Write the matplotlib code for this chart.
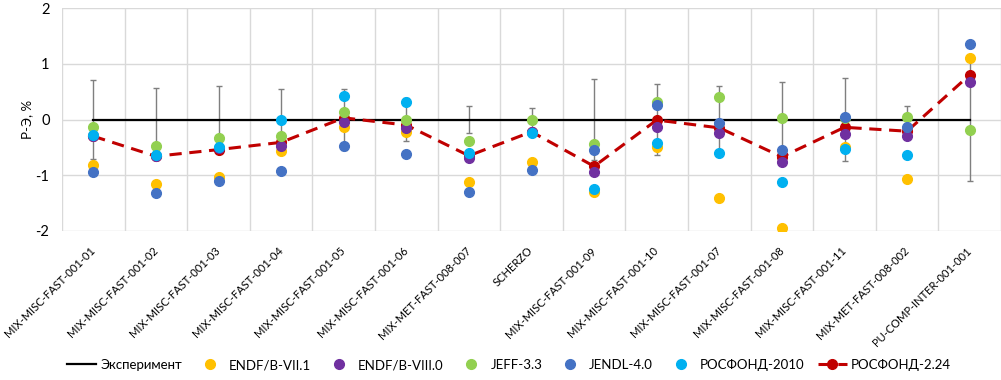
import numpy as np
import matplotlib.pyplot as plt
from matplotlib.transforms import ScaledTranslation

plt.rcParams['font.family'] = ['Lato', 'DejaVu Sans']
plt.rcParams['axes.unicode_minus'] = False

cases = ["MIX-MISC-FAST-001-01", "MIX-MISC-FAST-001-02", "MIX-MISC-FAST-001-03",
         "MIX-MISC-FAST-001-04", "MIX-MISC-FAST-001-05", "MIX-MISC-FAST-001-06",
         "MIX-MET-FAST-008-007", "SCHERZO", "MIX-MISC-FAST-001-09",
         "MIX-MISC-FAST-001-10", "MIX-MISC-FAST-001-07", "MIX-MISC-FAST-001-08",
         "MIX-MISC-FAST-001-11", "MIX-MET-FAST-008-002", "PU-COMP-INTER-001-001"]

# experimental uncertainty, %
exp_err = [0.71, 0.57, 0.60, 0.54, 0.55, 0.38, 0.25, 0.21, 0.72, 0.64, 0.60, 0.67, 0.74, 0.24, 1.10]

# calculated minus experiment, %
endf71 = [-0.81, -1.16, -1.04, -0.57, -0.13, -0.23, -1.12, -0.76, -1.30, -0.49, -1.40, -1.94, -0.50, -1.06, 1.10]
endf80 = [-0.30, -0.65, -0.52, -0.47, -0.04, -0.16, -0.69, -0.22, -0.95, -0.14, -0.24, -0.76, -0.26, -0.29, 0.68]
jeff33 = [-0.14, -0.48, -0.34, -0.29, 0.14, 0.00, -0.38, 0.00, -0.44, 0.31, 0.40, 0.02, 0.03, 0.05, -0.19]
jendl40 = [-0.95, -1.32, -1.11, -0.93, -0.48, -0.61, -1.30, -0.90, -0.54, 0.26, -0.07, -0.55, 0.04, -0.13, 1.35]
rosfond2010 = [-0.27, -0.63, -0.50, 0.00, 0.43, 0.32, -0.60, -0.24, -1.25, -0.43, -0.60, -1.12, -0.53, -0.63, np.nan]
rosfond224 = [-0.30, -0.66, -0.54, -0.41, 0.03, -0.10, -0.65, -0.22, -0.84, -0.01, -0.15, -0.67, -0.14, -0.21, 0.80]

x = np.arange(len(cases))

fig = plt.figure(figsize=(10.01, 3.80), dpi=100)
ax = fig.add_axes([62 / 1001, 1 - 231 / 380, 939 / 1001, 223 / 380])

ax.errorbar(x, np.zeros(len(x)), yerr=exp_err, fmt='none', ecolor='#7f7f7f',
            elinewidth=1.0, capsize=2, capthick=1.0, zorder=2)
ax.plot(x, np.zeros(len(x)), color='black', lw=1.6, label="Эксперимент", zorder=3)

ms = 7
ax.plot(x, rosfond224, color='#C00000', ls=(0, (4, 2.5)), lw=2.2, marker='o', ms=ms,
        label="РОСФОНД-2.24", zorder=4)
series = [
    (endf71, '#FFC000', "ENDF/B-VII.1"),
    (endf80, '#7030A0', "ENDF/B-VIII.0"),
    (jeff33, '#92D050', "JEFF-3.3"),
    (jendl40, '#4472C4', "JENDL-4.0"),
    (rosfond2010, '#00B0F0', "РОСФОНД-2010"),
]
for vals, col, name in series:
    ax.plot(x, vals, ls='none', marker='o', ms=ms, color=col, label=name, zorder=5)

ax.set_xlim(-0.5, len(cases) - 0.5)
ax.set_ylim(-2, 2)
ax.set_yticks([-2, -1, 0, 1, 2])
ax.set_xticks(x)
ax.set_xticklabels(cases, rotation=45, ha='right', va='center', rotation_mode='anchor',
                   fontsize=8.0)
# shift the slanted case names a little to the right of their ticks
shift = ScaledTranslation(5 / 100, 0, fig.dpi_scale_trans)
for lbl in ax.get_xticklabels():
    lbl.set_transform(lbl.get_transform() + shift)
ax.set_xticks(np.arange(-0.5, len(cases), 1.0), minor=True)
ax.tick_params(axis='both', which='both', length=0)
ax.tick_params(axis='y', labelsize=10.5, pad=9)
ax.tick_params(axis='x', pad=13)
ax.grid(True, axis='y', which='major', color='#d9d9d9', lw=1)
ax.grid(True, axis='x', which='minor', color='#d9d9d9', lw=1)
ax.set_axisbelow(True)
for s in ax.spines.values():
    s.set_visible(False)
ax.set_ylabel("Р-Э, %", fontsize=9.5, labelpad=2)

handles, labels = ax.get_legend_handles_labels()
order = ["Эксперимент", "ENDF/B-VII.1", "ENDF/B-VIII.0", "JEFF-3.3", "JENDL-4.0",
         "РОСФОНД-2010", "РОСФОНД-2.24"]
hmap = dict(zip(labels, handles))
fig.legend([hmap[k] for k in order], order, loc='center',
           bbox_to_anchor=(509 / 1001, 1 - 365 / 380),
           ncol=7, frameon=False, fontsize=9.5, handlelength=2.2, columnspacing=1.0,
           handletextpad=0.35)

fig.savefig("out.png", dpi=100)
